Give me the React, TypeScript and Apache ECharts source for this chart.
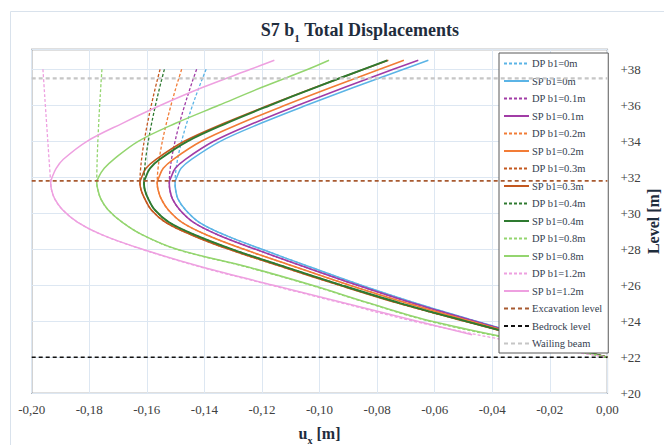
import React, { useEffect, useRef } from "react";
import * as echarts from "echarts";

// Levels (m) at which the single-prop (SP) curves are sampled
const spLevels = [38.5, 38, 37, 36, 35, 34, 33, 32.5, 32, 31.7, 31.3, 30.8, 30.2, 29.5, 28.8, 28, 27, 26, 25, 24, 23, 22];
const spLevelsB12 = [38.5, 38, 37, 36, 35, 34, 33, 32.5, 32, 31.7, 31.3, 30.8, 30.2, 29.5, 28.8, 28, 27, 26, 25, 24, 23.25];

// Levels (m) at which the double-prop (DP) curves are sampled
const dpLevels = [38, 31.7, 31.3, 30.8, 30.2, 29.5, 28.8, 28, 27, 26, 25, 24, 23, 22];

// Horizontal displacement u_x (m), SP
const spB0 = [-0.0622, -0.0708, -0.088, -0.1046, -0.1204, -0.1345, -0.1445, -0.1481, -0.1496, -0.1502, -0.15, -0.1492, -0.1466, -0.1418, -0.133, -0.12, -0.103, -0.0855, -0.0665, -0.0455, -0.0235, 0];
const spB01 = [-0.0657, -0.0744, -0.0912, -0.1075, -0.123, -0.1368, -0.1466, -0.1501, -0.1516, -0.1522, -0.152, -0.1511, -0.1486, -0.1438, -0.1352, -0.1222, -0.1048, -0.0868, -0.0675, -0.046, -0.0238, 0];
const spB02 = [-0.0707, -0.0791, -0.0958, -0.112, -0.1274, -0.1411, -0.1508, -0.1543, -0.1558, -0.1564, -0.1561, -0.155, -0.1526, -0.1478, -0.1392, -0.1262, -0.108, -0.0895, -0.0695, -0.0475, -0.0245, 0];
const spB03 = [-0.0761, -0.0846, -0.1014, -0.1177, -0.1332, -0.147, -0.1568, -0.1603, -0.1618, -0.1624, -0.162, -0.1607, -0.1585, -0.1535, -0.1445, -0.1315, -0.1125, -0.093, -0.0725, -0.0495, -0.0255, 0];
const spB04 = [-0.0765, -0.0848, -0.1013, -0.1172, -0.1324, -0.1459, -0.1555, -0.1589, -0.1604, -0.161, -0.1607, -0.1595, -0.1573, -0.1523, -0.1433, -0.1303, -0.1115, -0.0922, -0.0718, -0.049, -0.0252, 0];
const spB08 = [-0.0967, -0.104, -0.12, -0.135, -0.15, -0.163, -0.1715, -0.1748, -0.1768, -0.1774, -0.177, -0.176, -0.1735, -0.1685, -0.1615, -0.1495, -0.1245, -0.1025, -0.0825, -0.061, -0.032, 0];
const spB12 = [-0.1157, -0.124, -0.1405, -0.1552, -0.1685, -0.1808, -0.189, -0.1915, -0.1929, -0.1934, -0.1931, -0.192, -0.1893, -0.184, -0.1755, -0.1615, -0.1405, -0.116, -0.091, -0.066, -0.047];

// Horizontal displacement u_x (m), DP
const dpB0 = [-0.1394, -0.1502, -0.15, -0.1492, -0.1466, -0.1418, -0.133, -0.12, -0.103, -0.0855, -0.0665, -0.0455, -0.0235, 0];
const dpB01 = [-0.1427, -0.1522, -0.152, -0.1511, -0.1486, -0.1438, -0.1352, -0.1222, -0.1048, -0.0868, -0.0675, -0.046, -0.0238, 0];
const dpB02 = [-0.1479, -0.1564, -0.1561, -0.155, -0.1526, -0.1478, -0.1392, -0.1262, -0.108, -0.0895, -0.0695, -0.0475, -0.0245, 0];
const dpB03 = [-0.1554, -0.1624, -0.162, -0.1607, -0.1585, -0.1535, -0.1445, -0.1315, -0.1125, -0.093, -0.0725, -0.0495, -0.0255, 0];
const dpB04 = [-0.1539, -0.161, -0.1607, -0.1595, -0.1573, -0.1523, -0.1433, -0.1303, -0.1115, -0.0922, -0.0718, -0.049, -0.0252, 0];
const dpB08 = [-0.1756, -0.1774, -0.177, -0.176, -0.1735, -0.1685, -0.1615, -0.1497, -0.125, -0.103, -0.083, -0.0618, -0.0328, 0];
const dpB12 = [-0.1961, -0.1934, -0.1931, -0.192, -0.1893, -0.184, -0.1755, -0.1617, -0.141, -0.1167, -0.092, -0.0672, -0.037, 0];

// Reference levels (m)
const excavationLevel = 31.8;
const bedrockLevel = 22;
const wailingBeamLevel = 37.5;

// Axis ranges and tick steps
const uxMin = -0.2;
const uxMax = 0;
const uxStep = 0.02;
const levelMin = 20;
const levelMax = 39.1;
const levelStep = 2;

const FONT = '"Liberation Serif", "Times New Roman", serif';
const INK = "#1f2d3d";

type Curve = { name: string; levels: number[]; ux: number[]; color: string; dashed: boolean; width: number };

const curves: Curve[] = [
  { name: "DP b1=0m", levels: dpLevels, ux: dpB0, color: "#5bb4e6", dashed: true, width: 1.3 },
  { name: "SP b1=0m", levels: spLevels, ux: spB0, color: "#5bb4e6", dashed: false, width: 1.5 },
  { name: "DP b1=0.1m", levels: dpLevels, ux: dpB01, color: "#a13ca6", dashed: true, width: 1.3 },
  { name: "SP b1=0.1m", levels: spLevels, ux: spB01, color: "#a13ca6", dashed: false, width: 1.6 },
  { name: "DP b1=0.2m", levels: dpLevels, ux: dpB02, color: "#f27c36", dashed: true, width: 1.3 },
  { name: "SP b1=0.2m", levels: spLevels, ux: spB02, color: "#f27c36", dashed: false, width: 1.6 },
  { name: "DP b1=0.3m", levels: dpLevels, ux: dpB03, color: "#c4581f", dashed: true, width: 1.3 },
  { name: "SP b1=0.3m", levels: spLevels, ux: spB03, color: "#c4581f", dashed: false, width: 1.6 },
  { name: "DP b1=0.4m", levels: dpLevels, ux: dpB04, color: "#2e7a30", dashed: true, width: 1.3 },
  { name: "SP b1=0.4m", levels: spLevels, ux: spB04, color: "#2e7a30", dashed: false, width: 1.9 },
  { name: "DP b1=0.8m", levels: dpLevels, ux: dpB08, color: "#94d56f", dashed: true, width: 1.3 },
  { name: "SP b1=0.8m", levels: spLevels, ux: spB08, color: "#94d56f", dashed: false, width: 1.5 },
  { name: "DP b1=1.2m", levels: dpLevels, ux: dpB12, color: "#eea0e0", dashed: true, width: 1.3 },
  { name: "SP b1=1.2m", levels: spLevelsB12, ux: spB12, color: "#eea0e0", dashed: false, width: 1.5 },
];

const refLines = [
  { name: "Excavation level", level: excavationLevel, color: "#a85a30", width: 1.8 },
  { name: "Bedrock level", level: bedrockLevel, color: "#111111", width: 1.5 },
  { name: "Wailing beam", level: wailingBeamLevel, color: "#c6c6c6", width: 2.2 },
];

function fmtUx(v: number): string {
  const x = Math.abs(v) < 1e-9 ? 0 : v;
  return x.toFixed(2).replace(".", ",");
}

export default function App() {
  const ref = useRef<HTMLDivElement>(null);

  useEffect(() => {
    if (!ref.current) return;
    const chart = echarts.init(ref.current, null, { renderer: "svg" });

    const curveSeries = curves.map((c) => ({
      type: "line",
      name: c.name,
      data: c.levels.map((lvl, i) => [c.ux[i], lvl]),
      symbol: "none",
      smooth: 0.35,
      silent: true,
      lineStyle: { color: c.color, width: c.width, type: c.dashed ? [3, 2] : "solid" },
      itemStyle: { color: c.color },
      z: 3,
    }));

    const levelSeries = refLines.map((r) => ({
      type: "line",
      name: r.name,
      data: [
        [uxMin, r.level],
        [uxMax, r.level],
      ],
      symbol: "none",
      silent: true,
      lineStyle: { color: r.color, width: r.width, type: [4, 3] },
      itemStyle: { color: r.color },
      z: 4,
    }));

    chart.setOption({
      animation: false,
      backgroundColor: "#ffffff",
      title: {
        text: "S7 b{sub|1} Total Displacements",
        left: 355,
        textAlign: "center",
        top: 12,
        textStyle: {
          fontFamily: FONT,
          fontSize: 18,
          fontWeight: "bold",
          color: INK,
          rich: {
            sub: { fontFamily: FONT, fontSize: 11, fontWeight: "bold", color: INK, verticalAlign: "bottom", lineHeight: 26 },
          },
        },
      },
      graphic: [
        {
          type: "rect",
          silent: true,
          z: -10,
          shape: { x: 10.5, y: 11.5, width: 720, height: 500 },
          style: { fill: "none", stroke: "#d9e2ec", lineWidth: 1 },
        },
      ],
      grid: {
        left: 31.7,
        right: 56.6,
        top: 49.5,
        bottom: 51.7,
        outerBoundsMode: "none",
        containLabel: false,
        show: true,
        borderColor: "#808080",
        borderWidth: 1.3,
        backgroundColor: "transparent",
      },
      legend: {
        orient: "vertical",
        left: 499,
        top: 53,
        padding: [5, 6, 4, 4],
        itemWidth: 25,
        itemHeight: 10,
        itemGap: 6.5,
        selectedMode: false,
        backgroundColor: "#ffffff",
        borderColor: "#595959",
        borderWidth: 1,
        itemStyle: { opacity: 0 },
        textStyle: { fontFamily: FONT, fontSize: 10.5, color: "#34404f", padding: [0, 0, 0, -2] },
        data: [...curves.map((c) => c.name), ...refLines.map((r) => r.name)],
      },
      xAxis: {
        type: "value",
        min: uxMin,
        max: uxMax,
        interval: uxStep,
        axisLine: { show: false },
        axisTick: { show: false },
        splitLine: { show: true, lineStyle: { color: "#dde7f2", width: 1 } },
        axisLabel: { formatter: fmtUx, fontFamily: FONT, fontSize: 13, color: "#404040", margin: 10 },
        name: "u{sub|x} [m]",
        nameLocation: "middle",
        nameGap: 28,
        nameMoveOverlap: false,
        nameTextStyle: {
          fontFamily: FONT,
          fontSize: 16,
          fontWeight: "bold",
          color: INK,
          rich: {
            sub: { fontFamily: FONT, fontSize: 10, fontWeight: "bold", color: INK, verticalAlign: "bottom", lineHeight: 24 },
          },
        },
      },
      yAxis: {
        type: "value",
        position: "right",
        min: levelMin,
        max: levelMax,
        interval: levelStep,
        axisLine: { show: false },
        axisTick: { show: false },
        splitLine: { show: true, lineStyle: { color: "#dde7f2", width: 1 } },
        axisLabel: {
          formatter: (v: number) => "+" + v,
          fontFamily: FONT,
          fontSize: 13,
          color: "#404040",
          margin: 13,
          align: "left",
          showMaxLabel: false,
        },
        name: "Level [m]",
        nameLocation: "middle",
        nameRotate: 90,
        nameGap: 38,
        nameMoveOverlap: false,
        nameTextStyle: { fontFamily: FONT, fontSize: 16, fontWeight: "bold", color: INK },
      },
      series: [...curveSeries, ...levelSeries],
    });

    return () => chart.dispose();
  }, []);

  return <div ref={ref} style={{ position: "fixed", left: 0, top: 0, width: 664, height: 445 }} />;
}
